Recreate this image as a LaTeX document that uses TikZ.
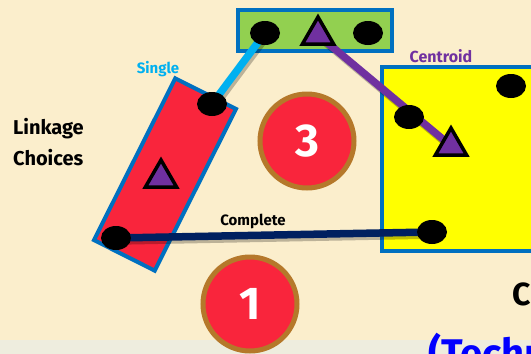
\documentclass[tikz,border=0pt]{standalone}
\usepackage{fontspec}
\setmainfont{Fira Sans}
\usetikzlibrary{shapes.geometric}

\definecolor{cream}{RGB}{251,238,204}
\definecolor{strip}{RGB}{238,237,222}
\definecolor{frameblue}{RGB}{0,112,192}
\definecolor{boxred}{RGB}{249,37,60}
\definecolor{boxgreen}{RGB}{146,208,80}
\definecolor{boxyellow}{RGB}{255,255,0}
\definecolor{tripurple}{RGB}{112,48,160}
\definecolor{singlecyan}{RGB}{0,176,240}
\definecolor{navy}{RGB}{0,32,96}
\definecolor{ringbrown}{RGB}{181,120,42}

\pgfdeclarelayer{bg}
\pgfdeclarelayer{links}
\pgfsetlayers{bg,links,main}

\begin{document}
\begin{tikzpicture}[x=1pt, y=-1pt,
    cluster/.style={draw=frameblue, line width=4pt},
    dot/.style={ellipse, fill=black, minimum width=30pt, minimum height=24pt, inner sep=0pt},
    tri/.style={regular polygon, regular polygon sides=3, draw=black, line width=3.5pt,
      fill=tripurple, minimum size=36pt, inner sep=0pt},
    link/.style={line width=7.5pt, preaction={draw=black, opacity=0.25, line width=7.5pt,
      transform canvas={shift={(2pt,-3pt)}}}},
    disc/.style={circle, fill=boxred, draw=ringbrown, line width=5pt, minimum size=94pt,
      inner sep=0pt, text=white, font=\bfseries\fontsize{46}{46}\selectfont},
    tag/.style={font=\bfseries\fontsize{15}{17}\selectfont}]
  \useasboundingbox (0,0) rectangle (531,354);

  % background and clusters
  \begin{pgfonlayer}{bg}
    \fill[cream] (0,0) rectangle (531,354);
    \fill[strip] (0,340) rectangle (531,354);
    \draw[cluster, fill=boxgreen] (238,10) rectangle (392,51);
    \node[cluster, fill=boxred, rectangle, rotate=63.3, minimum width=181pt,
      minimum height=68pt, inner sep=0pt] (redbox) at (165,174.5) {};
    \draw[cluster, fill=boxyellow] (382,67) rectangle (545,251);
  \end{pgfonlayer}

  % points of the three clusters
  \node[dot] (g1) at (265,33) {};
  \node[tri] (gt) at (318,35) {};
  \node[dot] (g2) at (368,33) {};
  \node[dot] (r1) at (212,104) {};
  \node[tri] (rt) at (161,178) {};
  \node[dot] (r2) at (116,238) {};
  \node[dot] (y1) at (409,117) {};
  \node[dot] (y2) at (511,86) {};
  \node[tri] (yt) at (451,146) {};
  \node[dot] (y3) at (432,232) {};

  % linkages
  \begin{pgfonlayer}{links}
    \draw[link, singlecyan] (g1.center) -- (r1.center);
    \draw[link, tripurple] (gt.center) -- (yt.center);
    \draw[link, navy] (r2.center) -- (y3.center);
  \end{pgfonlayer}

  \node[tag, text=singlecyan] (single) at (158,69) {Single};
  \node[tag, text=tripurple, font=\bfseries\fontsize{16}{18}\selectfont] (centroid) at (441,56) {Centroid};
  \node[tag] (complete) at (253,221) {Complete};
  \node[font=\bfseries\fontsize{20}{31}\selectfont, align=left, anchor=west, inner sep=0pt]
    (linkage) at (13,142) {Linkage\\Choices};

  \node[disc] (three) at (307,141) {3};
  \node[disc] (one) at (250,304) {1};

  \node[font=\bfseries\fontsize{32}{32}\selectfont, anchor=west, inner sep=0pt] (cword) at (512,294) {C};
  \node[font=\bfseries\fontsize{40}{40}\selectfont, text=blue, anchor=west, inner sep=0pt]
    (techn) at (428,353) {(Techn};
\end{tikzpicture}
\end{document}
